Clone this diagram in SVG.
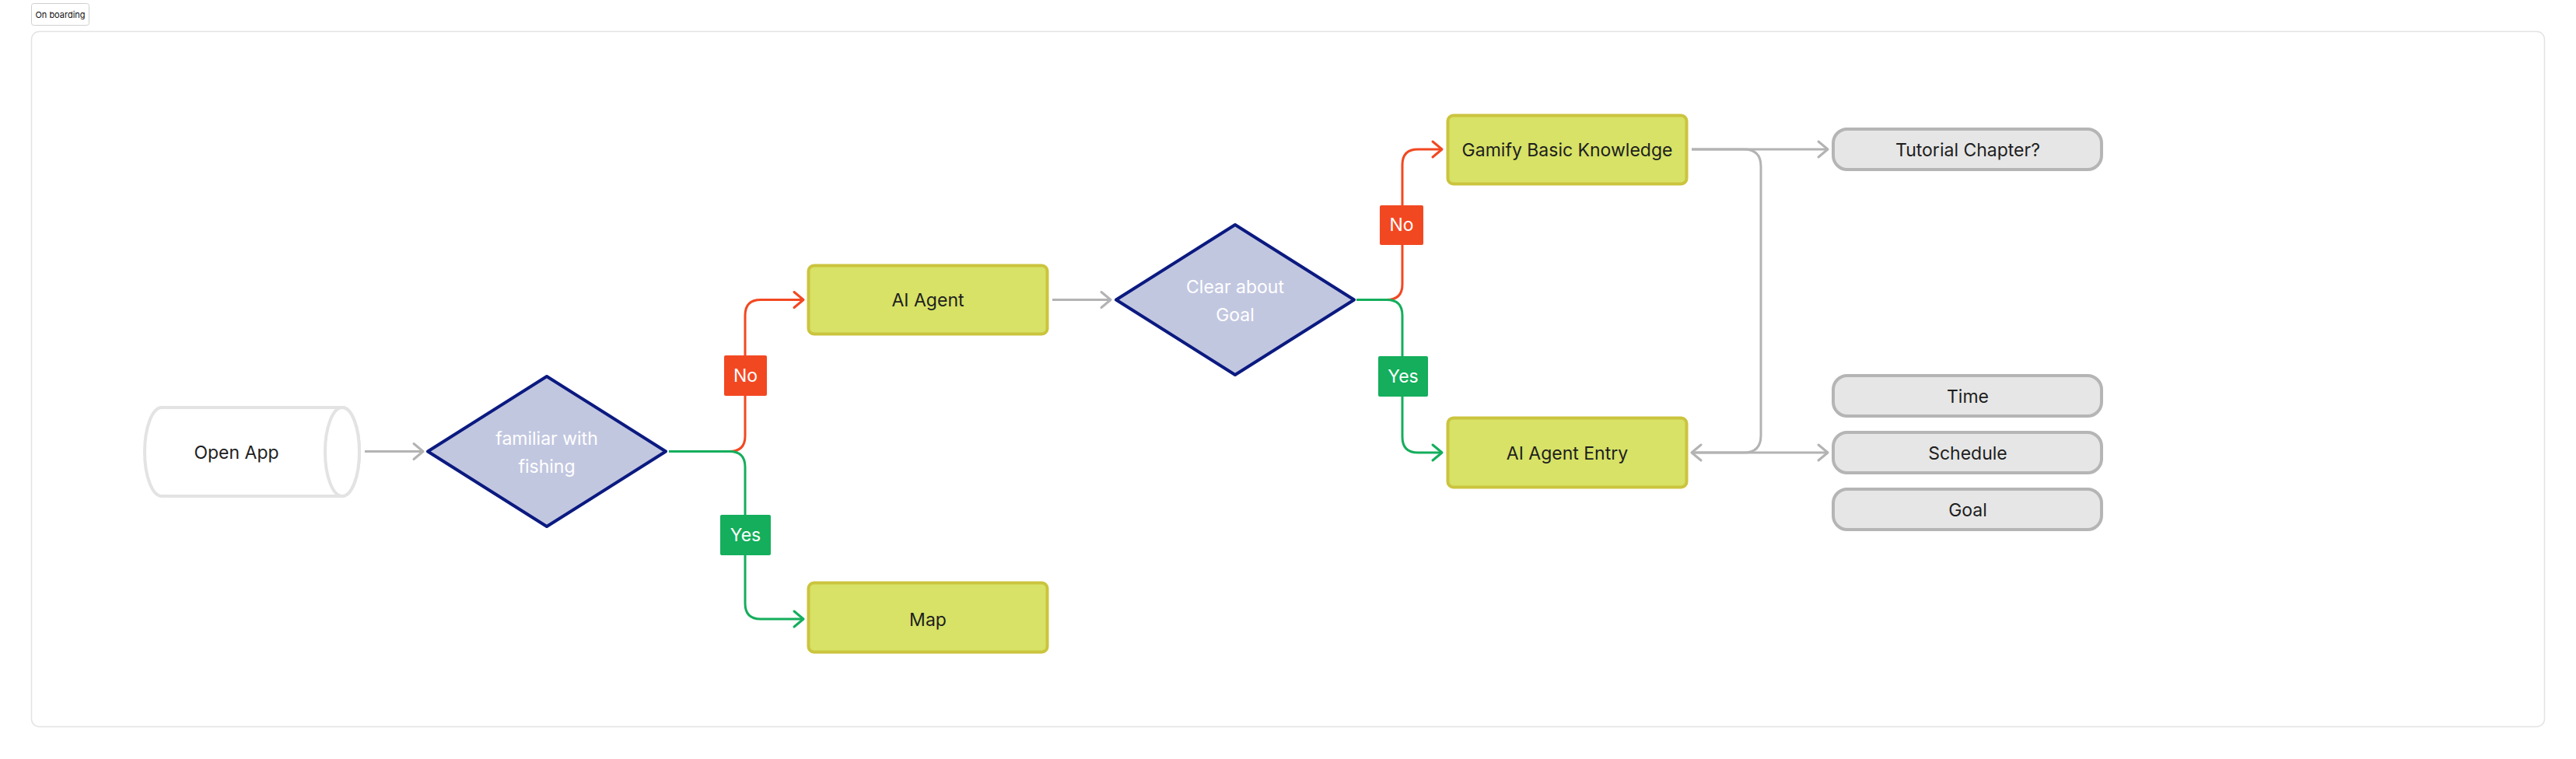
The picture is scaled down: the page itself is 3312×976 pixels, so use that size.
<svg xmlns="http://www.w3.org/2000/svg" width="3312" height="976" viewBox="0 0 3312 976">
<style>
  text { font-family: Inter, "Noto Sans", "Liberation Sans", sans-serif; text-anchor: middle; }
  .box { fill: #d7e266; stroke: #cbc43e; stroke-width: 4; }
  .box-t { font-size: 23px; fill: #1e1e1e; }
  .dia { fill: #c2c7e0; stroke: #0b1a80; stroke-width: 4; stroke-linejoin: round; }
  .dia-t { font-size: 23px; fill: #ffffff; }
  .pill { fill: #e6e6e6; stroke: #b5b5b5; stroke-width: 4; }
  .pill-t { font-size: 23px; fill: #1e1e1e; }
  .lbl-t { font-size: 23px; fill: #ffffff; }
  .c { fill: none; stroke-width: 3; }
  .gray { stroke: #b3b3b3; }
  .red { stroke: #f24822; }
  .green { stroke: #14ae5c; }
</style>
<defs>
  <marker id="ag" markerUnits="userSpaceOnUse" markerWidth="30" markerHeight="30" viewBox="-15 -15 30 30" refX="0" refY="0" orient="auto">
    <path d="M -12 -10 L 0 0 L -12 10" fill="none" stroke="#b3b3b3" stroke-width="3" stroke-linecap="round" stroke-linejoin="round"/>
  </marker>
  <marker id="ar" markerUnits="userSpaceOnUse" markerWidth="30" markerHeight="30" viewBox="-15 -15 30 30" refX="0" refY="0" orient="auto">
    <path d="M -12 -10 L 0 0 L -12 10" fill="none" stroke="#f24822" stroke-width="3" stroke-linecap="round" stroke-linejoin="round"/>
  </marker>
  <marker id="agr" markerUnits="userSpaceOnUse" markerWidth="30" markerHeight="30" viewBox="-15 -15 30 30" refX="0" refY="0" orient="auto">
    <path d="M -12 -10 L 0 0 L -12 10" fill="none" stroke="#14ae5c" stroke-width="3" stroke-linecap="round" stroke-linejoin="round"/>
  </marker>
</defs>
<rect width="3312" height="976" fill="#ffffff"/>

<g id="section-tag">
  <rect x="40.5" y="4.5" width="74" height="28" rx="3" fill="#ffffff" stroke="#cfcfcf" stroke-width="1"/>
  <text x="77.5" y="22.5" style="font-size:11px;fill:#111111">On boarding</text>
</g>
<g id="section">
  <rect x="40.5" y="40.5" width="3231" height="894" rx="10" fill="#ffffff" stroke="#e3e3e3" stroke-width="1.5"/>
</g>

<g id="connectors">
  <path class="c gray" d="M 469 580.5 H 544" marker-end="url(#ag)"/>
  <path class="c red" d="M 860 580.5 H 938 Q 958 580.5 958 560.5 V 405.5 Q 958 385.5 978 385.5 H 1033" marker-end="url(#ar)"/>
  <path class="c green" d="M 860 580.5 H 938 Q 958 580.5 958 600.5 V 776 Q 958 796 978 796 H 1033" marker-end="url(#agr)"/>
  <path class="c gray" d="M 1353 385.5 H 1428" marker-end="url(#ag)"/>
  <path class="c red" d="M 1744 385.5 H 1783 Q 1803 385.5 1803 365.5 V 212 Q 1803 192 1823 192 H 1854" marker-end="url(#ar)"/>
  <path class="c green" d="M 1744 385.5 H 1783 Q 1803 385.5 1803 405.5 V 562 Q 1803 582 1823 582 H 1854" marker-end="url(#agr)"/>
  <path class="c gray" d="M 2175 192 H 2350" marker-end="url(#ag)"/>
  <path class="c gray" d="M 2175 192 H 2242 Q 2264 192 2264 214 V 560 Q 2264 582 2242 582 H 2175" marker-end="url(#ag)"/>
  <path class="c gray" d="M 2175 582 H 2350" marker-end="url(#ag)"/>
</g>

<g id="label-no-1">
  <rect x="931" y="457" width="55" height="52" rx="2" fill="#f24822"/>
  <text class="lbl-t" x="958.5" y="491">No</text>
</g>
<g id="label-yes-1">
  <rect x="926" y="662" width="65" height="52" rx="2" fill="#14ae5c"/>
  <text class="lbl-t" x="958.5" y="696">Yes</text>
</g>
<g id="label-no-2">
  <rect x="1774" y="264" width="56" height="51" rx="2" fill="#f24822"/>
  <text class="lbl-t" x="1802" y="297">No</text>
</g>
<g id="label-yes-2">
  <rect x="1772" y="458" width="64" height="52" rx="2" fill="#14ae5c"/>
  <text class="lbl-t" x="1804" y="492">Yes</text>
</g>

<g id="open-app">
  <path d="M 208 524 H 440 A 22 57 0 0 1 440 638 H 208 A 22 57 0 0 1 208 524 Z" fill="#ffffff" stroke="#e3e3e3" stroke-width="4"/>
  <ellipse cx="440" cy="581" rx="22" ry="57" fill="#ffffff" stroke="#e3e3e3" stroke-width="4"/>
  <text class="box-t" x="304" y="589.5">Open App</text>
</g>

<g id="familiar-with-fishing">
  <polygon class="dia" points="550,580.5 703,484 856,580.5 703,677"/>
  <text class="dia-t" x="703" y="572">familiar with</text>
  <text class="dia-t" x="703" y="608">fishing</text>
</g>

<g id="ai-agent">
  <rect class="box" x="1039.5" y="341.5" width="307" height="88" rx="7"/>
  <text class="box-t" x="1193" y="394">AI Agent</text>
</g>

<g id="map">
  <rect class="box" x="1039.5" y="749.5" width="307" height="89" rx="7"/>
  <text class="box-t" x="1193" y="805">Map</text>
</g>

<g id="clear-about-goal">
  <polygon class="dia" points="1435,385.5 1588,289 1741,385.5 1588,482"/>
  <text class="dia-t" x="1588" y="377">Clear about</text>
  <text class="dia-t" x="1588" y="412.5">Goal</text>
</g>

<g id="gamify-basic-knowledge">
  <rect class="box" x="1861.5" y="148.5" width="307" height="88" rx="7"/>
  <text class="box-t" x="2015" y="201">Gamify Basic Knowledge</text>
</g>

<g id="ai-agent-entry">
  <rect class="box" x="1861.5" y="537.5" width="307" height="89" rx="7"/>
  <text class="box-t" x="2015" y="591">AI Agent Entry</text>
</g>

<g id="tutorial-chapter">
  <rect class="pill" x="2357" y="166" width="345" height="52" rx="18"/>
  <text class="pill-t" x="2530" y="201">Tutorial Chapter?</text>
</g>
<g id="time">
  <rect class="pill" x="2357" y="483" width="345" height="52" rx="18"/>
  <text class="pill-t" x="2530" y="518">Time</text>
</g>
<g id="schedule">
  <rect class="pill" x="2357" y="556" width="345" height="52" rx="18"/>
  <text class="pill-t" x="2530" y="590.5">Schedule</text>
</g>
<g id="goal">
  <rect class="pill" x="2357" y="629" width="345" height="52" rx="18"/>
  <text class="pill-t" x="2530" y="664">Goal</text>
</g>
</svg>
